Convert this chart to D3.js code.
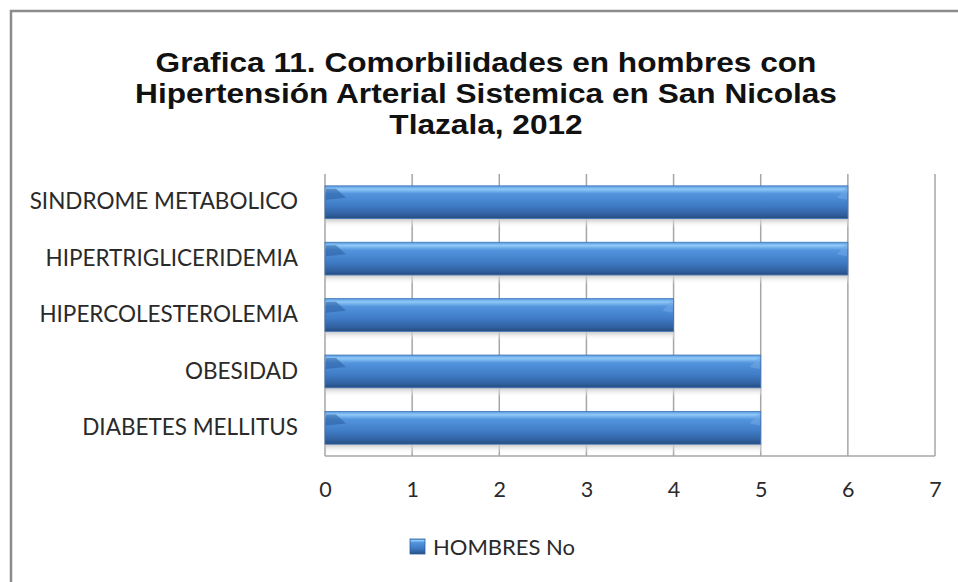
<!DOCTYPE html>
<html>
<head>
<meta charset="utf-8">
<script src="https://cdn.jsdelivr.net/npm/d3@7"></script>
<style>
  body { margin: 0; background: #fff; }
</style>
</head>
<body>
<div id="chart"></div>
<script>
// datos de la grafica
const categories = ["SINDROME METABOLICO", "HIPERTRIGLICERIDEMIA", "HIPERCOLESTEROLEMIA", "OBESIDAD", "DIABETES MELLITUS"];
const hombres = [6, 6, 4, 5, 5];
const xTicks = [0, 1, 2, 3, 4, 5, 6, 7];
const titleLines = ["Grafica 11. Comorbilidades en hombres con", "Hipertensión Arterial Sistemica en San Nicolas", "Tlazala, 2012"];
const seriesName = "HOMBRES No";

const width = 958;
const height = 582;
const margin = { left: 325, right: 23, top: 174, bottom: 126 };
const labelFont = "Lato, 'Open Sans', sans-serif";

const svg = d3.select("#chart")
  .append("svg")
  .attr("width", width)
  .attr("height", height);

// gradientes para las barras
const defs = svg.append("defs");
const grad = defs.append("linearGradient")
  .attr("id", "barGrad")
  .attr("x1", 0).attr("y1", 0).attr("x2", 0).attr("y2", 1);
grad.append("stop").attr("offset", "0%").attr("stop-color", "#5699e0");
grad.append("stop").attr("offset", "10%").attr("stop-color", "#90c9f8");
grad.append("stop").attr("offset", "24%").attr("stop-color", "#5294dd");
grad.append("stop").attr("offset", "60%").attr("stop-color", "#407cc7");
grad.append("stop").attr("offset", "88%").attr("stop-color", "#30609f");
grad.append("stop").attr("offset", "100%").attr("stop-color", "#244b7d");

const shadowGrad = defs.append("linearGradient")
  .attr("id", "shadowGrad")
  .attr("x1", 0).attr("y1", 0).attr("x2", 0).attr("y2", 1);
shadowGrad.append("stop").attr("offset", "0%").attr("stop-color", "#c4c4c4");
shadowGrad.append("stop").attr("offset", "100%").attr("stop-color", "#ffffff").attr("stop-opacity", 0);

// marco exterior
svg.append("rect")
  .attr("x", 11)
  .attr("y", 11)
  .attr("width", width + 20)
  .attr("height", height + 20)
  .attr("fill", "none")
  .attr("stroke", "#8c8c8c")
  .attr("stroke-width", 2.5);

// titulo (un poco ensanchado como en la imagen original)
const title = svg.append("text")
  .attr("transform", "translate(486,0) scale(1.13,1)")
  .attr("text-anchor", "middle")
  .attr("font-family", "Arial, 'Liberation Sans', sans-serif")
  .attr("font-weight", "bold")
  .attr("font-size", 28)
  .attr("fill", "#111");
titleLines.forEach((t, i) => {
  title.append("tspan")
    .attr("x", 0)
    .attr("y", 72 + i * 31)
    .text(t);
});

const plotW = width - margin.left - margin.right;
const plotH = height - margin.top - margin.bottom;

const xScale = d3.scaleLinear()
  .domain([0, 7])
  .range([0, plotW]);

const yScale = d3.scaleBand()
  .domain(categories)
  .range([0, plotH])
  .paddingInner(0.42)
  .paddingOuter(0.21);

const g = svg.append("g")
  .attr("transform", "translate(" + margin.left + "," + margin.top + ")");

// lineas de la cuadricula
g.append("g")
  .selectAll("line")
  .data(xTicks)
  .join("line")
  .attr("x1", d => xScale(d))
  .attr("x2", d => xScale(d))
  .attr("y1", 0)
  .attr("y2", plotH)
  .attr("stroke", "#a6a6a6")
  .attr("stroke-width", 1.5);

// sombras debajo de las barras
g.append("g")
  .selectAll("rect")
  .data(hombres)
  .join("rect")
  .attr("x", xScale(0) + 1)
  .attr("y", (d, i) => yScale(categories[i]) + yScale.bandwidth())
  .attr("width", d => xScale(d) - xScale(0))
  .attr("height", 9)
  .attr("fill", "url(#shadowGrad)");

// barras
const bars = g.append("g")
  .selectAll("g")
  .data(hombres)
  .join("g");

bars.append("rect")
  .attr("x", xScale(0))
  .attr("y", (d, i) => yScale(categories[i]))
  .attr("width", d => xScale(d) - xScale(0))
  .attr("height", yScale.bandwidth())
  .attr("fill", "url(#barGrad)")
  .attr("stroke", "#3f73b4")
  .attr("stroke-width", 0.8);

// bisel izquierdo y derecho
bars.append("path")
  .attr("d", (d, i) => {
    const y0 = yScale(categories[i]);
    const x0 = xScale(0) + 1;
    return "M" + x0 + "," + (y0 + 3) + "L" + (x0 + 10) + "," + (y0 + 3) + "L" + (x0 + 20) + "," + (y0 + 12) + "L" + x0 + "," + (y0 + 14) + "Z";
  })
  .attr("fill", "#2a5c9f")
  .attr("opacity", 0.55);

bars.append("path")
  .attr("d", (d, i) => {
    const y0 = yScale(categories[i]);
    const x1 = xScale(d) - 1;
    return "M" + x1 + "," + (y0 + 1) + "L" + x1 + "," + (y0 + 14) + "L" + (x1 - 10) + "," + (y0 + 12) + "Z";
  })
  .attr("fill", "#6fa7e6")
  .attr("opacity", 0.6);

// eje inferior
g.append("line")
  .attr("x1", 0)
  .attr("x2", plotW)
  .attr("y1", plotH)
  .attr("y2", plotH)
  .attr("stroke", "#a6a6a6")
  .attr("stroke-width", 1.5);

const xAxis = d3.axisBottom(xScale)
  .tickValues(xTicks)
  .tickFormat(d3.format("d"))
  .tickSize(0)
  .tickPadding(26);

g.append("g")
  .attr("transform", "translate(0," + plotH + ")")
  .call(xAxis)
  .call(a => a.select(".domain").remove())
  .selectAll("text")
  .attr("font-family", labelFont)
  .attr("font-size", 21.5)
  .attr("fill", "#2a2a2a");

// etiquetas de categorias
const yAxis = d3.axisLeft(yScale)
  .tickSize(0)
  .tickPadding(27);

g.append("g")
  .call(yAxis)
  .call(a => a.select(".domain").remove())
  .selectAll("text")
  .attr("font-family", labelFont)
  .attr("font-size", 22.5)
  .attr("fill", "#2a2a2a");

// leyenda
const legend = svg.append("g")
  .attr("transform", "translate(410,539)");
legend.append("rect")
  .attr("width", 15)
  .attr("height", 15)
  .attr("fill", "url(#barGrad)")
  .attr("stroke", "#2f5e9c")
  .attr("stroke-width", 0.8);
legend.append("text")
  .attr("x", 23)
  .attr("y", 15.5)
  .attr("font-family", labelFont)
  .attr("font-size", 22)
  .attr("fill", "#2a2a2a")
  .text(seriesName);
</script>
</body>
</html>
